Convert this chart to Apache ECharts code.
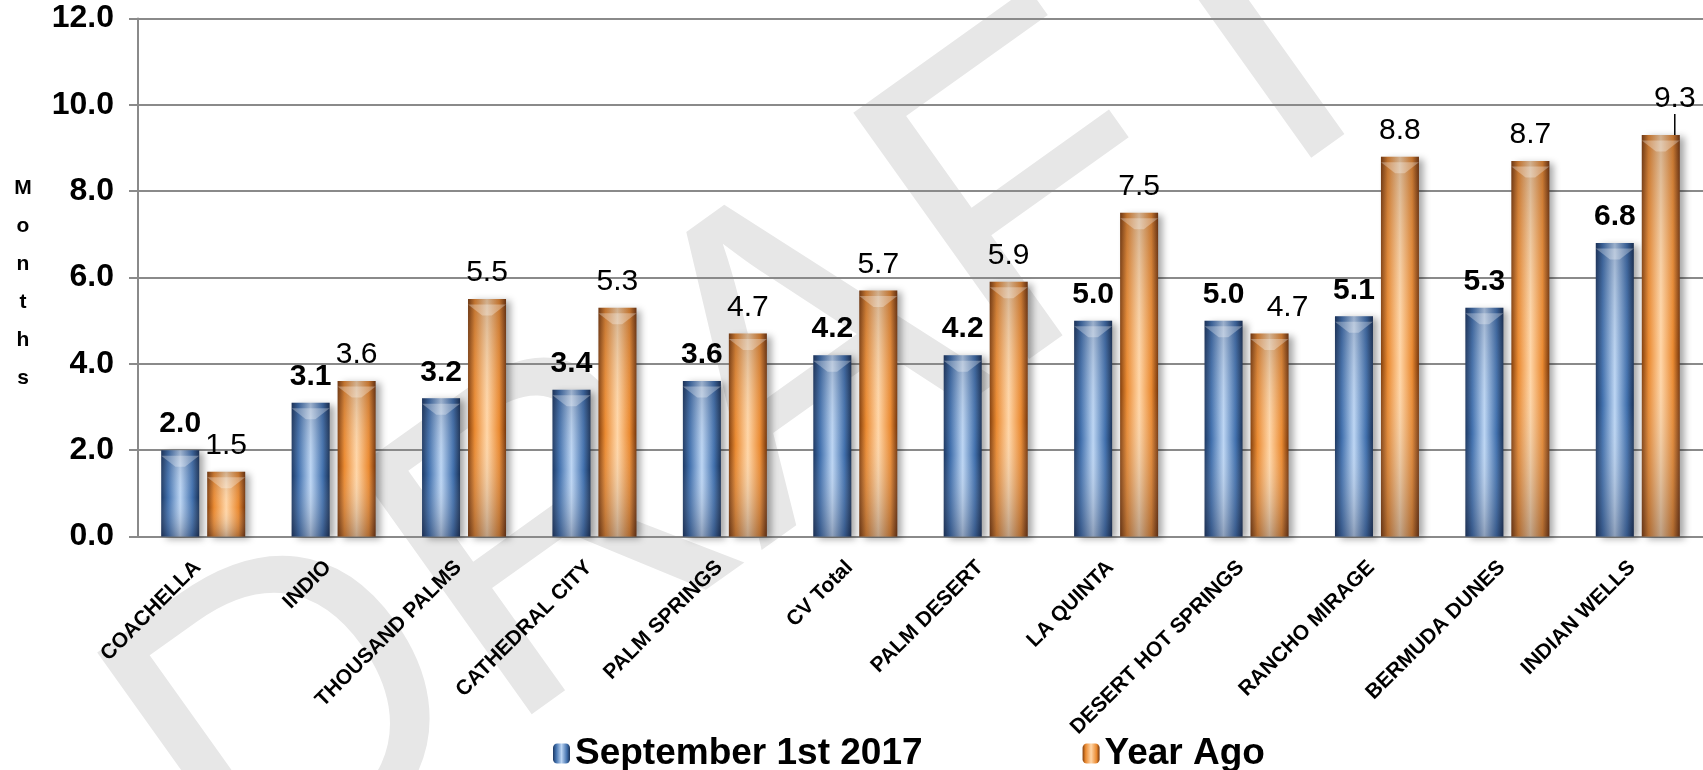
<!DOCTYPE html>
<html>
<head>
<meta charset="utf-8">
<title>Months of Inventory</title>
<script src="https://cdn.jsdelivr.net/npm/echarts@6/dist/echarts.min.js"></script>
<style>
  html, body { margin: 0; padding: 0; background: #fff; }
  #chart { width: 1703px; height: 770px; }
</style>
</head>
<body>
<div id="chart"></div>
<script>
// categories + values
const cities = [
  'COACHELLA', 'INDIO', 'THOUSAND PALMS', 'CATHEDRAL CITY', 'PALM SPRINGS', 'CV Total',
  'PALM DESERT', 'LA QUINTA', 'DESERT HOT SPRINGS', 'RANCHO MIRAGE', 'BERMUDA DUNES', 'INDIAN WELLS'
]
const september2017 = [2.0, 3.1, 3.2, 3.4, 3.6, 4.2, 4.2, 5.0, 5.0, 5.1, 5.3, 6.8]
const yearAgo = [1.5, 3.6, 5.5, 5.3, 4.7, 5.7, 5.9, 7.5, 4.7, 8.8, 8.7, 9.3]
const seriesNames = ['September 1st 2017', 'Year Ago']

const font = "'Liberation Sans', Arial, sans-serif"

// horizontal "cylinder" shading
const blueFill = new echarts.graphic.LinearGradient(0, 0, 1, 0, [
  { offset: 0, color: '#1d3862' },
  { offset: 0.18, color: '#4170ad' },
  { offset: 0.5, color: '#bcd5f3' },
  { offset: 0.82, color: '#4170ad' },
  { offset: 1, color: '#193156' }
])
const orangeFill = new echarts.graphic.LinearGradient(0, 0, 1, 0, [
  { offset: 0, color: '#83400e' },
  { offset: 0.18, color: '#ea8a31' },
  { offset: 0.5, color: '#ffd6a8' },
  { offset: 0.82, color: '#ea8a31' },
  { offset: 1, color: '#76360b' }
])
// vertical darkening laid over the bars
const shadeFill = new echarts.graphic.LinearGradient(0, 0, 0, 1, [
  { offset: 0, color: 'rgba(20,20,40,0.2)' },
  { offset: 0.55, color: 'rgba(255,255,255,0)' },
  { offset: 1, color: 'rgba(20,20,40,0.28)' }
])

const barWidth = 38
const barGap = '21%'
const barShadow = {
  shadowColor: 'rgba(0,0,0,0.35)',
  shadowBlur: 7,
  shadowOffsetX: 5,
  shadowOffsetY: 2
}
// little bevel on top of each bar
const bevelPath = 'path://M0,0 L20,0 L12.5,6 L7.5,6 Z'

const chart = echarts.init(document.getElementById('chart'))

const shadeSeries = (name, data) => ({
  name: name,
  type: 'bar',
  xAxisIndex: 1,
  data: data,
  barWidth: barWidth,
  barGap: barGap,
  silent: true,
  z: 3,
  itemStyle: { color: shadeFill }
})

const bevelSeries = (name, data) => ({
  name: name,
  type: 'pictorialBar',
  xAxisIndex: 2,
  data: data,
  barWidth: barWidth,
  barGap: barGap,
  symbol: bevelPath,
  symbolSize: [barWidth, 11],
  symbolPosition: 'end',
  symbolOffset: [0, '50%'],
  silent: true,
  z: 4,
  itemStyle: { color: 'rgba(255,255,255,0.3)' }
})

const option = {
  animation: false,
  textStyle: { fontFamily: font },
  graphic: [
    {
      // faint watermark behind the plot
      type: 'text',
      z: -100,
      x: 770,
      y: 395,
      rotation: 0.62,
      style: {
        text: 'DRAFT',
        font: "440px 'Liberation Sans', Arial, sans-serif",
        fill: '#e7e7e7',
        align: 'center',
        verticalAlign: 'middle'
      }
    },
    {
      // axis title, one letter per line
      type: 'text',
      x: 23,
      y: 283,
      style: {
        text: 'M\no\nn\nt\nh\ns',
        font: "bold 21px 'Liberation Sans', Arial, sans-serif",
        lineHeight: 38,
        fill: '#000',
        align: 'center',
        verticalAlign: 'middle'
      }
    }
  ],
  legend: {
    data: seriesNames,
    left: 548,
    top: 730,
    itemWidth: 17,
    itemHeight: 20,
    itemGap: 160,
    textStyle: { fontSize: 37, fontWeight: 'bold', color: '#000', fontFamily: font }
  },
  grid: {
    left: 138,
    right: 0,
    top: 18.5,
    bottom: 233.5,
    containLabel: false
  },
  xAxis: [
    {
      type: 'category',
      data: cities,
      axisLine: { lineStyle: { color: '#8a8a8a', width: 2 } },
      axisTick: { length: 8, lineStyle: { color: '#8a8a8a', width: 2 } },
      axisLabel: {
        rotate: 45,
        margin: 22,
        padding: [0, 8, 0, 0],
        fontSize: 21,
        fontWeight: 'bold',
        color: '#000',
        interval: 0
      }
    },
    { type: 'category', data: cities, show: false },
    { type: 'category', data: cities, show: false }
  ],
  yAxis: {
    type: 'value',
    min: 0,
    max: 12,
    interval: 2,
    axisLine: { show: true, lineStyle: { color: '#8a8a8a', width: 2 } },
    axisTick: { show: true, length: 9, lineStyle: { color: '#8a8a8a', width: 2 } },
    axisLabel: {
      margin: 24,
      fontSize: 32,
      fontWeight: 'bold',
      color: '#000',
      formatter: (v) => v.toFixed(1)
    },
    splitLine: { lineStyle: { color: '#8a8a8a', width: 2 } }
  },
  series: [
    {
      name: seriesNames[0],
      type: 'bar',
      data: september2017,
      barWidth: barWidth,
      barGap: barGap,
      itemStyle: Object.assign({ color: blueFill }, barShadow),
      label: {
        show: true,
        position: 'top',
        distance: 11,
        fontSize: 30,
        fontWeight: 'bold',
        color: '#000',
        formatter: (p) => p.value.toFixed(1)
      }
    },
    {
      name: seriesNames[1],
      type: 'bar',
      data: yearAgo.map((v, i) => (i === 11 ? { value: v, labelLine: { show: true } } : v)),
      barWidth: barWidth,
      itemStyle: Object.assign({ color: orangeFill }, barShadow),
      label: {
        show: true,
        position: 'top',
        distance: 11,
        fontSize: 30,
        color: '#000',
        formatter: (p) => p.value.toFixed(1)
      },
      labelLine: { lineStyle: { color: '#000', width: 1.5 } },
      // a couple of labels were nudged sideways in the original
      labelLayout: (p) => {
        if (p.dataIndex === 11) return { dx: 14, dy: -10 }
        if (p.dataIndex === 8) return { dx: 18 }
        return {}
      }
    },
    shadeSeries('shadeA', september2017),
    shadeSeries('shadeB', yearAgo),
    bevelSeries('bevelA', september2017),
    bevelSeries('bevelB', yearAgo)
  ]
}

chart.setOption(option)
window.addEventListener('resize', () => chart.resize())
</script>
</body>
</html>
